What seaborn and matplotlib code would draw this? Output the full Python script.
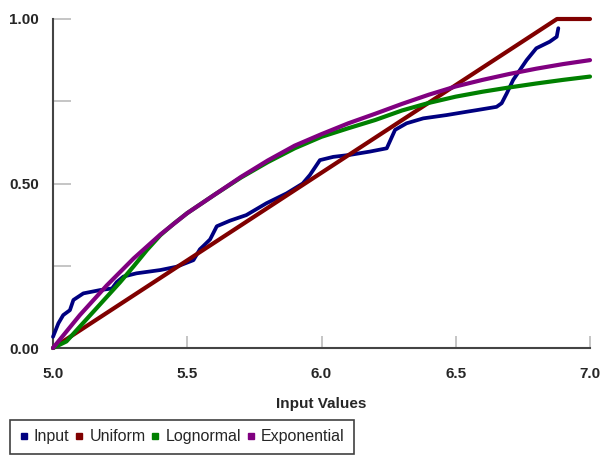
import matplotlib
matplotlib.use("Agg")
import matplotlib.pyplot as plt
from matplotlib.lines import Line2D
import seaborn as sns
import pandas as pd

# ---- data ----
input_x = [5.0, 5.02, 5.038, 5.063, 5.076, 5.113, 5.175, 5.22, 5.237, 5.262, 5.311,
           5.40, 5.46, 5.523, 5.547, 5.56, 5.585, 5.61, 5.659, 5.72, 5.795, 5.87,
           5.93, 5.957, 5.994, 6.044, 6.106, 6.18, 6.243, 6.274, 6.317, 6.379,
           6.466, 6.54, 6.578, 6.652, 6.671, 6.69, 6.714, 6.764, 6.80, 6.85,
           6.876, 6.882]
input_y = [0.034, 0.075, 0.10, 0.115, 0.146, 0.166, 0.176, 0.181, 0.20, 0.217, 0.227,
           0.237, 0.247, 0.267, 0.300, 0.310, 0.330, 0.370, 0.387, 0.404, 0.44, 0.47,
           0.50, 0.526, 0.571, 0.581, 0.587, 0.597, 0.607, 0.663, 0.683, 0.698,
           0.708, 0.718, 0.723, 0.733, 0.744, 0.774, 0.815, 0.875, 0.911, 0.931,
           0.946, 0.972]

uniform_x = [5.0, 6.877, 7.0]
uniform_y = [0.0, 1.0, 1.0]

lognormal_x = [5.0, 5.05, 5.1, 5.15, 5.2, 5.25, 5.3, 5.35, 5.4, 5.45, 5.5, 5.6, 5.7,
               5.8, 5.9, 6.0, 6.1, 6.2, 6.3, 6.4, 6.5, 6.6, 6.7, 6.8, 6.9, 7.0]
lognormal_y = [0.0, 0.02, 0.065, 0.11, 0.155, 0.20, 0.248, 0.298, 0.343, 0.378, 0.41,
               0.465, 0.518, 0.565, 0.607, 0.642, 0.668, 0.693, 0.722, 0.745, 0.764,
               0.779, 0.792, 0.804, 0.815, 0.825]

exponential_x = [5.0, 5.1, 5.2, 5.3, 5.4, 5.5, 5.6, 5.7, 5.8, 5.9, 6.0, 6.1, 6.2,
                 6.3, 6.4, 6.5, 6.6, 6.7, 6.8, 6.9, 7.0]
exponential_y = [0.0, 0.10, 0.19, 0.272, 0.345, 0.41, 0.465, 0.52, 0.57, 0.615, 0.65,
                 0.683, 0.712, 0.742, 0.77, 0.795, 0.815, 0.833, 0.849, 0.863, 0.875]

series_names = ["Input", "Uniform", "Lognormal", "Exponential"]
series_colors = ["#000080", "#800000", "#008000", "#800080"]

x_ticks = [5.0, 5.5, 6.0, 6.5, 7.0]
x_tick_labels = ["5.0", "5.5", "6.0", "6.5", "7.0"]
y_ticks = [0.0, 0.5, 1.0]
y_tick_labels = ["0.00", "0.50", "1.00"]
y_minor_ticks = [0.25, 0.75]

# ---- build long frame ----
frames = []
for name, xs, ys in zip(series_names,
                        [input_x, uniform_x, lognormal_x, exponential_x],
                        [input_y, uniform_y, lognormal_y, exponential_y]):
    frames.append(pd.DataFrame({"x": xs, "y": ys, "series": name}))
df = pd.concat(frames, ignore_index=True)

sns.set_style("white")
plt.rcParams["font.family"] = ["Liberation Sans", "DejaVu Sans"]

fig = plt.figure(figsize=(6.05, 4.57), dpi=100)
ax = fig.add_axes([53 / 605, 1 - 348 / 457, (590 - 53) / 605, (348 - 19) / 457])

palette = dict(zip(series_names, series_colors))
for name in series_names:
    sub = df[df["series"] == name]
    sns.lineplot(data=sub, x="x", y="y", color=palette[name], ax=ax,
                 sort=False, estimator=None, linewidth=2.7 if name == "Input" else 3.0,
                 legend=False, clip_on=False, zorder=3)

ax.set_xlim(5.0, 7.0)
ax.set_ylim(0.0, 1.0)
ax.set_xticks(x_ticks)
ax.set_xticklabels(x_tick_labels, fontsize=11, fontweight="bold")
ax.set_yticks(y_ticks)
ax.set_yticklabels(y_tick_labels, fontsize=11, fontweight="bold")
ax.set_yticks(y_minor_ticks, minor=True)
ax.tick_params(axis="y", which="both", direction="in", length=13, width=1.3,
               color="#c0c0c0", pad=10, left=True)
ax.tick_params(axis="x", which="both", direction="in", length=9, width=1.3,
               color="#c0c0c0", pad=14, bottom=True)
ax.set_xlabel("Input Values", fontsize=11, fontweight="bold", labelpad=11)
ax.set_ylabel("")

for side in ["top", "right"]:
    ax.spines[side].set_visible(False)
for side in ["left", "bottom"]:
    ax.spines[side].set_color("#444444")
    ax.spines[side].set_linewidth(1.5)
    ax.spines[side].set_zorder(2)

handles = [Line2D([], [], marker="s", linestyle="none", color=c, markersize=5)
           for c in series_colors]
leg = fig.legend(handles, series_names, loc="lower left",
                 bbox_to_anchor=(10 / 605, 3 / 457), borderaxespad=0,
                 ncol=4, frameon=True, fancybox=False, fontsize=11.5,
                 handlelength=0.5, handletextpad=0.4, columnspacing=0.35,
                 borderpad=0.6)
leg.get_frame().set_edgecolor("#111111")
leg.get_frame().set_linewidth(1.2)

fig.savefig("out.png", dpi=100)
